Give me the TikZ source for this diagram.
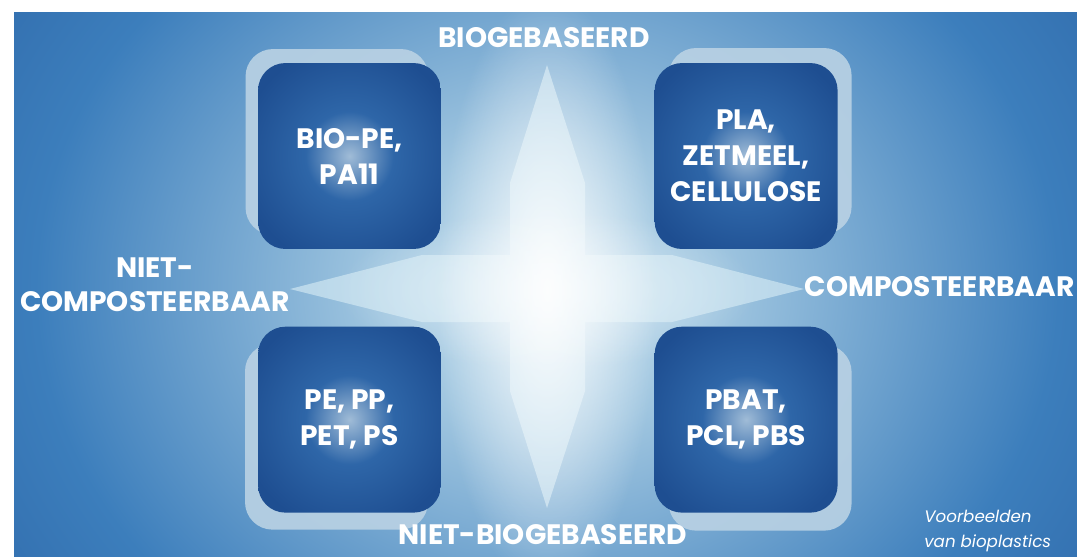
\documentclass[tikz,border=0pt]{standalone}
\usepackage{fontspec}
\setmainfont{Poppins}
\usepackage{xcolor}
\definecolor{BgDark}{RGB}{34,84,152}
\definecolor{BgMid}{RGB}{60,126,188}
\definecolor{BgLight}{RGB}{160,198,224}
\definecolor{BgCore}{RGB}{200,226,240}
\definecolor{BoxEdge}{RGB}{30,78,145}
\definecolor{BoxMid}{RGB}{46,102,168}
\definecolor{BoxCore}{RGB}{160,188,215}
\definecolor{ShadowBlue}{RGB}{186,210,228}
\definecolor{CrossCyan}{RGB}{218,238,246}
\usepackage{tikz}
\usetikzlibrary{positioning, shadows, fadings}

\pgfdeclareradialshading{bgglow}{\pgfpoint{0bp}{0bp}}{%
  color(0bp)=(BgCore); color(8bp)=(BgLight); color(24bp)=(BgMid);
  color(42bp)=(BgDark); color(50bp)=(BgDark)}
\pgfdeclareradialshading{boxglow}{\pgfpoint{0bp}{0bp}}{%
  color(0bp)=(BoxCore); color(12bp)=(BoxMid); color(30bp)=(BoxEdge);
  color(50bp)=(BoxEdge)}
\tikzfading[name=glowfade, inner color=transparent!0, outer color=transparent!100]

\tikzset{
  % Quadrant box
  quadbox/.style={
    rectangle, rounded corners=0.55cm,
    shading=boxglow,
    minimum width=3.66cm, minimum height=3.72cm,
    align=center, text=white,
    font=\fontsize{16}{20.5}\selectfont\bfseries,
    inner sep=2pt
  },
  % Box variants with offset backplate
  quadbox nw/.style={quadbox, drop shadow={shadow xshift=-0.25cm, shadow yshift=0.28cm, fill=ShadowBlue, opacity=0.9}},
  quadbox ne/.style={quadbox, drop shadow={shadow xshift=0.28cm, shadow yshift=0.3cm, fill=ShadowBlue, opacity=0.9}},
  quadbox sw/.style={quadbox, drop shadow={shadow xshift=-0.26cm, shadow yshift=-0.34cm, fill=ShadowBlue, opacity=0.9}},
  quadbox se/.style={quadbox, drop shadow={shadow xshift=0.28cm, shadow yshift=-0.36cm, fill=ShadowBlue, opacity=0.9}},
  % Axis labels
  axislabel/.style={text=white, align=center, inner sep=0pt,
    font=\fontsize{16}{19.5}\selectfont\bfseries},
  notelabel/.style={text=white, align=left, inner sep=0pt,
    font=\fontsize{9.5}{14.5}\selectfont\itshape},
  % Cross arrows
  crossarm/.style={fill=CrossCyan, fill opacity=0.6},
}

\begin{document}
\begin{tikzpicture}[x=0.02cm, y=-0.02cm]

  %% ---- BACKGROUND ----
  \fill[white] (0,0) rectangle (1077,556);
  \useasboundingbox (0,0) rectangle (1077,556);
  \begin{scope}
    \clip (14,12) rectangle (1077,556);
    \shade[shading=bgglow] (14,-170) rectangle (1080,744);
  \end{scope}

  %% ---- CROSS ----
  \fill[crossarm] (547,65) -- (585,183) -- (585,255) -- (672,255) -- (804,289)
    -- (672,322) -- (585,322) -- (585,391) -- (547,508) -- (510,391)
    -- (510,322) -- (422,322) -- (290,289) -- (422,255) -- (510,255)
    -- (510,183) -- cycle;
  \fill[white, opacity=0.9, path fading=glowfade] (547,290) ellipse [x radius=110, y radius=300];
  \fill[white, opacity=0.5, path fading=glowfade] (547,290) ellipse [x radius=210, y radius=80];

  %% ---- QUADRANTS ----
  \node[quadbox nw] (biope) at (349.5,156) {BIO-PE,\\PA11};
  \node[quadbox ne, right=4.26cm of biope] (pla) {PLA,\\ZETMEEL,\\CELLULOSE};
  \node[quadbox sw, below=1.54cm of biope] (pe) {PE, PP,\\PET, PS};
  \node[quadbox se, right=4.26cm of pe] (pbat) {PBAT,\\PCL, PBS};

  %% ---- AXIS LABELS ----
  \node[axislabel] (biog) at (544,38) {BIOGEBASEERD};
  \node[axislabel] (nietbiog) at (543,535) {NIET-BIOGEBASEERD};
  \node[axislabel] (nietcomp) at (155,285) {NIET-\\COMPOSTEERBAAR};
  \node[axislabel, anchor=east] (comp) at (1075,287) {COMPOSTEERBAAR};

  %% Caption
  \node[notelabel, anchor=west] (note) at (924,531) {Voorbeelden\\van bioplastics};

\end{tikzpicture}
\end{document}
